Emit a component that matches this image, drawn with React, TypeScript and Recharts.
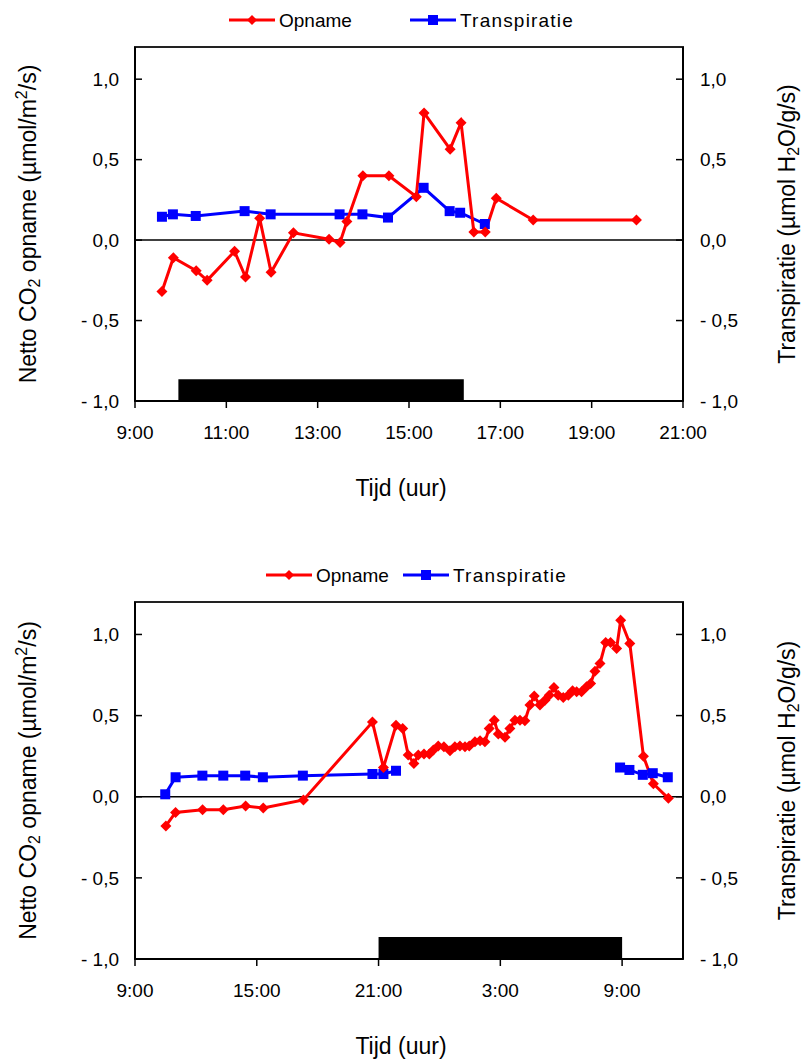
import { LineChart, Line, XAxis, YAxis, ReferenceArea, ReferenceLine } from 'recharts'

// dag 1 (9:00 - 21:00), tijd in uren
const TOP_OPNAME_T = [9.59, 9.84, 10.34, 10.58, 11.18, 11.42, 11.73, 11.98, 12.47, 13.25, 13.49, 13.64, 13.99, 14.56, 15.16, 15.33, 15.9, 16.14, 16.42, 16.67, 16.91, 17.72, 19.98]
const TOP_OPNAME_V = [-0.32, -0.11, -0.19, -0.25, -0.07, -0.23, 0.135, -0.2, 0.045, 0.005, -0.015, 0.115, 0.4, 0.4, 0.27, 0.79, 0.565, 0.73, 0.05, 0.05, 0.26, 0.125, 0.125]
const TOP_TRANS_T = [9.59, 9.83, 10.33, 11.4, 11.97, 13.48, 13.98, 14.54, 15.32, 15.89, 16.12, 16.66]
const TOP_TRANS_V = [0.145, 0.16, 0.15, 0.18, 0.16, 0.16, 0.16, 0.14, 0.325, 0.18, 0.17, 0.1]
const TOP_X_TICKS = [9, 11, 13, 15, 17, 19, 21]
const TOP_X_LABELS = ['9:00', '11:00', '13:00', '15:00', '17:00', '19:00', '21:00']
const TOP_DARK = [9.95, 16.2]

// dag 1 9:00 tot dag 2 12:00 (uren doorgeteld)
const BOT_OPNAME_T = [10.52, 11.0, 12.33, 13.35, 14.45, 15.32, 17.3, 20.7, 21.24, 21.86, 22.19, 22.46, 22.74, 22.96, 23.24, 23.5, 23.7, 23.94, 24.22, 24.52, 24.76, 25.01, 25.26, 25.47, 25.75, 26.0, 26.24, 26.45, 26.7, 26.9, 27.23, 27.47, 27.72, 27.97, 28.21, 28.46, 28.67, 28.95, 29.2, 29.41, 29.64, 29.85, 30.1, 30.35, 30.56, 30.76, 31.0, 31.25, 31.45, 31.66, 31.91, 32.19, 32.43, 32.73, 32.93, 33.38, 34.05, 34.54, 35.28]
const BOT_OPNAME_V = [-0.18, -0.097, -0.08, -0.08, -0.057, -0.07, -0.02, 0.46, 0.18, 0.44, 0.42, 0.257, 0.205, 0.257, 0.263, 0.263, 0.288, 0.312, 0.308, 0.283, 0.308, 0.312, 0.308, 0.312, 0.339, 0.345, 0.339, 0.42, 0.472, 0.386, 0.366, 0.42, 0.472, 0.472, 0.468, 0.565, 0.62, 0.565, 0.595, 0.626, 0.673, 0.626, 0.612, 0.626, 0.653, 0.647, 0.647, 0.677, 0.698, 0.774, 0.821, 0.951, 0.951, 0.914, 1.088, 0.944, 0.25, 0.08, -0.01]
const BOT_TRANS_DAY_T = [10.49, 11.0, 12.32, 13.35, 14.43, 15.3, 17.27, 20.7, 21.24, 21.86]
const BOT_TRANS_DAY_V = [0.015, 0.12, 0.13, 0.13, 0.13, 0.12, 0.13, 0.14, 0.14, 0.16]
const BOT_TRANS_NEXT_T = [32.9, 33.36, 34.02, 34.51, 35.25]
const BOT_TRANS_NEXT_V = [0.18, 0.165, 0.135, 0.145, 0.12]
const BOT_X_TICKS = [9, 15, 21, 27, 33]
const BOT_X_LABELS = ['9:00', '15:00', '21:00', '3:00', '9:00']
const BOT_DARK = [21, 33]

const Y_TICKS = [-1, -0.5, 0, 0.5, 1]
const Y_DOMAIN = [-1, 1.2]

const FONT = "'Liberation Sans', Arial, sans-serif"
const RED = '#ff0000'
const BLUE = '#0000ff'

const zip = (t: number[], v: number[]) => t.map((x, i) => ({ t: x, v: v[i] }))

const fmtY = (v: number) => {
  const s = Math.abs(v).toFixed(1).replace('.', ',')
  return v < 0 ? `- ${s}` : s
}

function Diamond(p: any) {
  const { cx, cy, index } = p
  if (cx == null || cy == null) return <g key={`d-${index}`} />
  const r = 5.5
  return (
    <path
      key={`d-${index}`}
      d={`M${cx},${cy - r}L${cx + r},${cy}L${cx},${cy + r}L${cx - r},${cy}Z`}
      fill={RED}
    />
  )
}

function Square(p: any) {
  const { cx, cy, index } = p
  if (cx == null || cy == null) return <g key={`s-${index}`} />
  return <rect key={`s-${index}`} x={cx - 5} y={cy - 5} width={10} height={10} fill={BLUE} />
}

function LegendRow({ y, redX, blueX }: { y: number; redX: number; blueX: number }) {
  return (
    <g fontFamily={FONT} fontSize={19} fill="#000">
      <line x1={redX} x2={redX + 46} y1={y} y2={y} stroke={RED} strokeWidth={3} />
      <path d={`M${redX + 23},${y - 5}L${redX + 28},${y}L${redX + 23},${y + 5}L${redX + 18},${y}Z`} fill={RED} />
      <text x={redX + 50} y={y + 7}>Opname</text>
      <line x1={blueX} x2={blueX + 46} y1={y} y2={y} stroke={BLUE} strokeWidth={3} />
      <rect x={blueX + 18} y={y - 5} width={10} height={10} fill={BLUE} />
      <text x={blueX + 50} y={y + 7} letterSpacing={1.2}>Transpiratie</text>
    </g>
  )
}

interface PanelProps {
  opname: { t: number; v: number }[]
  trans: { t: number; v: number }[][]
  xDomain: number[]
  xTicks: number[]
  xLabels: string[]
  dark: number[]
  top: number
  bottom: number
  legendY: number
  legendRed: number
  legendBlue: number
}

function Panel({ opname, trans, xDomain, xTicks, xLabels, dark, top, bottom, legendY, legendRed, legendBlue }: PanelProps) {
  const midY = top + (531 - top - bottom) / 2
  return (
    <LineChart width={802} height={531} margin={{ top, right: 59, bottom: bottom - 40, left: 75 }}>
      <XAxis
        dataKey="t"
        type="number"
        domain={xDomain}
        ticks={xTicks}
        interval={0}
        tickFormatter={(v: number) => xLabels[xTicks.indexOf(v)] ?? ''}
        height={40}
        tickSize={7}
        tickMargin={18}
        axisLine={{ stroke: '#000', strokeWidth: 2 }}
        tickLine={{ stroke: '#000', strokeWidth: 1.5 }}
        tick={{ fill: '#000', fontSize: 19, fontFamily: FONT }}
      />
      <YAxis
        yAxisId="left"
        type="number"
        domain={Y_DOMAIN}
        ticks={Y_TICKS}
        interval={0}
        tickFormatter={fmtY}
        width={60}
        tickSize={-7}
        tickMargin={23}
        axisLine={{ stroke: '#000', strokeWidth: 2 }}
        tickLine={{ stroke: '#000', strokeWidth: 1.5 }}
        tick={{ fill: '#000', fontSize: 19, fontFamily: FONT }}
      />
      <YAxis
        yAxisId="right"
        orientation="right"
        type="number"
        domain={Y_DOMAIN}
        ticks={Y_TICKS}
        interval={0}
        tickFormatter={fmtY}
        width={60}
        tickSize={-7}
        tickMargin={24}
        axisLine={{ stroke: '#000', strokeWidth: 2 }}
        tickLine={{ stroke: '#000', strokeWidth: 1.5 }}
        tick={{ fill: '#000', fontSize: 19, fontFamily: FONT }}
      />
      <ReferenceArea
        yAxisId="left"
        x1={xDomain[0]}
        x2={xDomain[1]}
        y1={Y_DOMAIN[0]}
        y2={Y_DOMAIN[1]}
        fill="none"
        stroke="#222"
        strokeWidth={2}
      />
      <ReferenceArea yAxisId="left" x1={dark[0]} x2={dark[1]} y1={-1} y2={-0.865} fill="#000" fillOpacity={1} />
      <ReferenceLine yAxisId="left" y={0} stroke="#000" strokeWidth={1.5} />
      {trans.map((seg, i) => (
        <Line
          key={`tr-${i}`}
          yAxisId="right"
          data={seg}
          dataKey="v"
          stroke={BLUE}
          strokeWidth={3}
          dot={Square}
          activeDot={false}
          isAnimationActive={false}
        />
      ))}
      <Line
        yAxisId="left"
        data={opname}
        dataKey="v"
        stroke={RED}
        strokeWidth={3}
        dot={Diamond}
        activeDot={false}
        isAnimationActive={false}
      />
      <LegendRow y={legendY} redX={legendRed} blueX={legendBlue} />
      <text
        x={36}
        y={midY}
        transform={`rotate(-90 36 ${midY})`}
        textAnchor="middle"
        fontFamily={FONT}
        fontSize={23}
        fill="#000"
      >
        Netto CO<tspan dy={4} fontSize={16}>2</tspan><tspan dy={-4}> opname (µmol/m</tspan>
        <tspan dy={-9} fontSize={16}>2</tspan><tspan dy={9}>/s)</tspan>
      </text>
      <text
        x={795}
        y={midY}
        transform={`rotate(-90 795 ${midY})`}
        textAnchor="middle"
        fontFamily={FONT}
        fontSize={23}
        fill="#000"
      >
        Transpiratie (µmol H<tspan dy={4} fontSize={16}>2</tspan><tspan dy={-4}>O/g/s)</tspan>
      </text>
      <text x={401} y={531 - bottom + 95} textAnchor="middle" fontFamily={FONT} fontSize={23} fill="#000">
        Tijd (uur)
      </text>
    </LineChart>
  )
}

export default function App() {
  return (
    <div style={{ position: 'absolute', left: 0, top: 0, width: 802, height: 1062, background: '#fff' }}>
      <Panel
        opname={zip(TOP_OPNAME_T, TOP_OPNAME_V)}
        trans={[zip(TOP_TRANS_T, TOP_TRANS_V)]}
        xDomain={[9, 21]}
        xTicks={TOP_X_TICKS}
        xLabels={TOP_X_LABELS}
        dark={TOP_DARK}
        top={47}
        bottom={130}
        legendY={20}
        legendRed={229}
        legendBlue={410}
      />
      <Panel
        opname={zip(BOT_OPNAME_T, BOT_OPNAME_V)}
        trans={[zip(BOT_TRANS_DAY_T, BOT_TRANS_DAY_V), zip(BOT_TRANS_NEXT_T, BOT_TRANS_NEXT_V)]}
        xDomain={[9, 36]}
        xTicks={BOT_X_TICKS}
        xLabels={BOT_X_LABELS}
        dark={BOT_DARK}
        top={71}
        bottom={103}
        legendY={44}
        legendRed={266}
        legendBlue={403}
      />
    </div>
  )
}
